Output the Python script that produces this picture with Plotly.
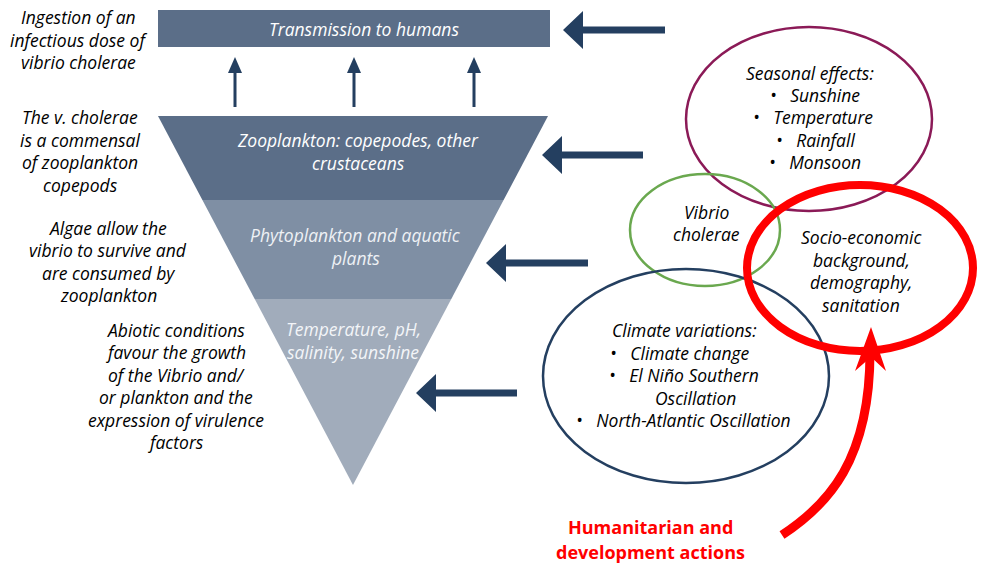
import plotly.graph_objects as go

# ---- text content ----
top_box_label = ["Transmission to humans"]
layer_labels = [
    ["Zooplankton: copepodes, other", "crustaceans"],
    ["Phytoplankton and aquatic", "plants"],
    ["Temperature, pH,", "salinity, sunshine"],
]
left_notes = [
    ["Ingestion of an", "infectious dose of", "vibrio cholerae"],
    ["The v. cholerae", "is a commensal", "of zooplankton", "copepods"],
    ["Algae allow the", "vibrio to survive and", "are consumed by", "zooplankton"],
    ["Abiotic conditions", "favour the growth", "of the Vibrio and/", "or plankton and the",
     "expression of virulence", "factors"],
]
seasonal_lines = ["Seasonal effects:", "•   Sunshine", "•   Temperature", "•   Rainfall", "•   Monsoon"]
vibrio_lines = ["Vibrio", "cholerae"]
socio_lines = ["Socio-economic", "background,", "demography,", "sanitation"]
climate_lines = ["Climate variations:", "•   Climate change", "•   El Niño Southern", "Oscillation",
                 "•   North-Atlantic Oscillation"]
action_lines = ["Humanitarian and", "development actions"]

FONT = "Open Sans"
FS = 17.5
NAVY = "#243f60"
W, H = 982, 565

fig = go.Figure()
shapes = []
annotations = []


def poly(pts, color, line_color=None, width=0):
    d = "M " + " L ".join(f"{x},{y}" for x, y in pts) + " Z"
    return dict(type="path", path=d, fillcolor=color, xref="x", yref="y",
                line=dict(color=line_color or color, width=width), layer="above")


def lines_text(lines, cx, y0, step, size=FS, color="black", italic=True, bold=False, xs=None):
    for i, t in enumerate(lines):
        txt = t
        if bold:
            txt = f"<b>{txt}</b>"
        if italic:
            txt = f"<i>{txt}</i>"
        annotations.append(dict(x=(xs[i] if xs else cx), y=y0 + i * step, xref="x", yref="y",
                                text=txt, showarrow=False, xanchor="center", yanchor="middle",
                                font=dict(family=FONT, size=size, color=color)))


# top box
shapes.append(dict(type="rect", x0=158, x1=550, y0=10, y1=47, fillcolor="#5b6e88",
                   line=dict(width=0), xref="x", yref="y", layer="below"))
lines_text(top_box_label, 364, 29, 22, color="white")

# inverted triangle with three bands
tl, tr, ty, ax, ay = 158, 548, 116, 353, 485


def edges(y):
    f = (y - ty) / (ay - ty)
    return tl + (ax - tl) * f, tr + (ax - tr) * f


b1, b2 = 200, 299
l1, r1 = edges(b1)
l2, r2 = edges(b2)
shapes.append(poly([(tl, ty), (tr, ty), (r1, b1), (l1, b1)], "#5b6e88"))
shapes.append(poly([(l1, b1), (r1, b1), (r2, b2), (l2, b2)], "#7f8fa4"))
shapes.append(poly([(l2, b2), (r2, b2), (ax, ay)], "#a1acbb"))

lines_text(layer_labels[0], 358, 140, 23, color="white")
lines_text(layer_labels[1], 355, 235, 22.5, color="#eef1f5")
lines_text(layer_labels[2], 353, 329, 22.5, color="#f3f5f8")

# up arrows
for x in (235, 354, 474):
    shapes.append(poly([(x, 57), (x + 7, 73), (x + 1.5, 73), (x + 1.5, 107), (x - 1.5, 107),
                        (x - 1.5, 73), (x - 7, 73)], NAVY))

# left arrows
for tip, tail, y in ((563, 665, 30), (542, 643, 155), (486, 588, 263), (416, 517, 393)):
    shapes.append(poly([(tip, y), (tip + 20, y - 19), (tip + 20, y - 3.5), (tail, y - 3.5),
                        (tail, y + 3.5), (tip + 20, y + 3.5), (tip + 20, y + 19)], NAVY))

# left notes
lines_text(left_notes[0], 78, 17, 22.5)
lines_text(left_notes[1], 80, 117, 22.7)
lines_text(left_notes[2], 108, 228, 22.3)
lines_text(left_notes[3], 176, 330, 22.4)

# ellipses
def ell(cx, cy, rx, ry, color, width):
    shapes.append(dict(type="circle", x0=cx - rx, x1=cx + rx, y0=cy - ry, y1=cy + ry,
                       xref="x", yref="y", line=dict(color=color, width=width), layer="above"))


ell(809, 119, 123, 92, "#8b1a57", 2.5)
ell(705, 230, 75, 56, "#6aa84f", 2.5)
ell(686, 376, 143, 107, NAVY, 2.5)
ell(860, 268, 113, 83, "#ff0000", 8)

lines_text(seasonal_lines, 812, 73, 22.2, xs=[810, 815, 813, 815, 815])
lines_text(vibrio_lines, 706, 212, 22)
lines_text(socio_lines, 861, 237, 22.5)
lines_text(climate_lines, 684, 330, 22.5, xs=[684, 680, 684, 695, 683])

# red curved arrow
shapes.append(dict(type="path", path="M 782,535 C 828,505 870,460 870,352",
                   xref="x", yref="y", line=dict(color="#ff0000", width=9), layer="above"))
shapes.append(poly([(871, 327), (886, 371), (871, 357), (855, 371)], "#ff0000"))

lines_text(action_lines, 650, 527, 25, size=18, color="#ff0000", italic=False, bold=True)

fig.update_layout(
    width=W, height=H, margin=dict(l=0, r=0, t=0, b=0),
    paper_bgcolor="white", plot_bgcolor="white",
    xaxis=dict(range=[0, W], visible=False, fixedrange=True),
    yaxis=dict(range=[H, 0], visible=False, fixedrange=True),
    shapes=shapes, annotations=annotations, showlegend=False,
)
fig.write_html("out.html", config={"displayModeBar": False},
               post_script="document.body.style.margin='0';document.body.style.overflow='hidden';")
